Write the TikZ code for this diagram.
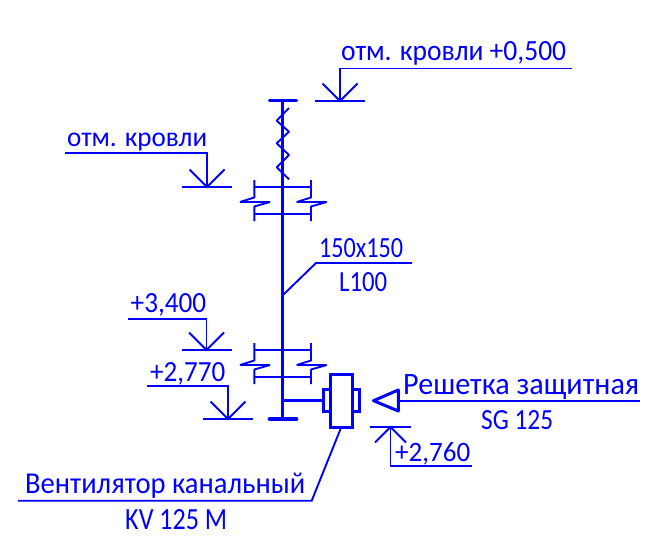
\documentclass[tikz,border=0pt]{standalone}
\usepackage{fontspec}
\setmainfont{Carlito}
\definecolor{cadblue}{RGB}{0,0,255}
\newcommand{\fitw}[3]{\resizebox{#1pt}{#2pt}{\fontsize{24pt}{28pt}\selectfont #3}}
\tikzset{
  thin line/.style={draw=cadblue,line width=1.9pt},
  thick line/.style={draw=cadblue,line width=3pt},
  bar line/.style={draw=cadblue,line width=3.6pt,line cap=round},
  label text/.style={inner sep=0pt,text=cadblue,anchor=base west},
  fan box/.style={draw=cadblue,line width=3pt,fill=white,line join=miter},
}
\newcommand{\levelmark}[3]{% apex x, apex y, half width
  \draw[thin line] (#1-#3,#2) -- (#1+#3,#2);
  \draw[thin line] (#1-17.5,#2-17.5) -- (#1,#2) -- (#1+17.5,#2-17.5);
}
\newcommand{\breakmark}[1]{% y of the upper rail
  \draw[thin line] (254.3,#1) -- (311,#1);
  \draw[thin line] (254.3,#1+27) -- (311,#1+27);
  \draw[thin line,line join=bevel] (254.3,#1-7) -- (254.3,#1+10.5) -- (240,#1+15) -- (270,#1+15) -- (254.3,#1+19.5) -- (254.3,#1+34);
  \draw[thin line,line join=bevel] (311,#1-7) -- (311,#1+10.5) -- (296.7,#1+15) -- (326.7,#1+15) -- (311,#1+19.5) -- (311,#1+34);
}
\begin{document}
\begin{tikzpicture}[x=1pt,y=-1pt]
\useasboundingbox (0,0) rectangle (668,540);
% pipe
\draw[thick line] (282,100) -- (282,419);
\draw[bar line] (269.5,100.5) -- (296.5,100.5);
\draw[bar line] (269.5,419) -- (296.5,419);
\draw[thin line,line join=bevel] (289,108) -- (276.7,120.7) -- (289,131.7) -- (276.7,143.3) -- (289,155) -- (276.7,167.3) -- (289,179.3);
\breakmark{187}
\breakmark{350}
% fan
\draw[thick line] (282,400.7) -- (324,400.7);
\node[fan box,minimum width=7.5pt,minimum height=22.5pt,inner sep=0pt] (fanl) at (326.8,400.5) {};
\node[fan box,minimum width=7.5pt,minimum height=22.5pt,inner sep=0pt] (fanr) at (355.8,400.5) {};
\node[fan box,minimum width=21.5pt,minimum height=53.5pt,inner sep=0pt] (fan) at (341.5,400.8) {};
% grille
\coordinate (gridtip) at (373.5,400.7);
\draw[thick line,line join=round] (gridtip) -- (398.3,390) -- (398.3,411) -- cycle;
\draw[thin line] (398.3,400.7) -- (640,400.7);
\node[label text] (grille) at (403,394) {\fitw{236}{20}{Решетка защитная}};
\node[label text] (sg) at (481,429) {\fitw{72}{19}{SG 125}};
% level marks
\levelmark{340}{101}{25}
\draw[thin line] (340,101) -- (340,68.5) -- (572,68.5);
\node[label text] (roofa) at (341,60.5) {\fitw{225}{19}{отм. кровли +0,500}};
\levelmark{207}{187}{25}
\draw[thin line] (207,187) -- (207,153) -- (65,153);
\node[label text] (roofb) at (67,146.7) {\fitw{140}{13.5}{отм. кровли}};
\levelmark{206.5}{350}{25}
\draw[thin line] (206.5,350) -- (206.5,319) -- (128,319);
\node[label text] (la) at (130.5,312.5) {\fitw{75.5}{19}{+3,400}};
\levelmark{228}{419}{25}
\draw[thin line] (228,419) -- (228,386) -- (147,386);
\node[label text] (lb) at (150,381.5) {\fitw{75}{19}{+2,770}};
% inverted mark
\coordinate (low) at (390.5,427);
\draw[thin line] (370,427) -- (411,427);
\draw[thin line] (375,442.5) -- (low) -- (406,442.5);
\draw[thin line] (low) -- (390.5,466) -- (472,466);
\node[label text] (lc) at (395,461) {\fitw{75}{19}{+2,760}};
% duct size
\draw[thin line] (283,295) -- (316,263) -- (412,263);
\node[label text] (size) at (319,257) {\fitw{84}{19}{150x150}};
\node[label text] (len) at (339,291) {\fitw{48}{19}{L100}};
% fan leader
\draw[thin line] (fan.south) ++(-1,0) -- (311.7,500.7) -- (18,500.7);
\node[label text] (fanname) at (25,493.3) {\fitw{280}{20.5}{Вентилятор канальный}};
\node[label text] (fantype) at (125,529.3) {\fitw{102}{20}{KV 125 M}};
\end{tikzpicture}
\end{document}
